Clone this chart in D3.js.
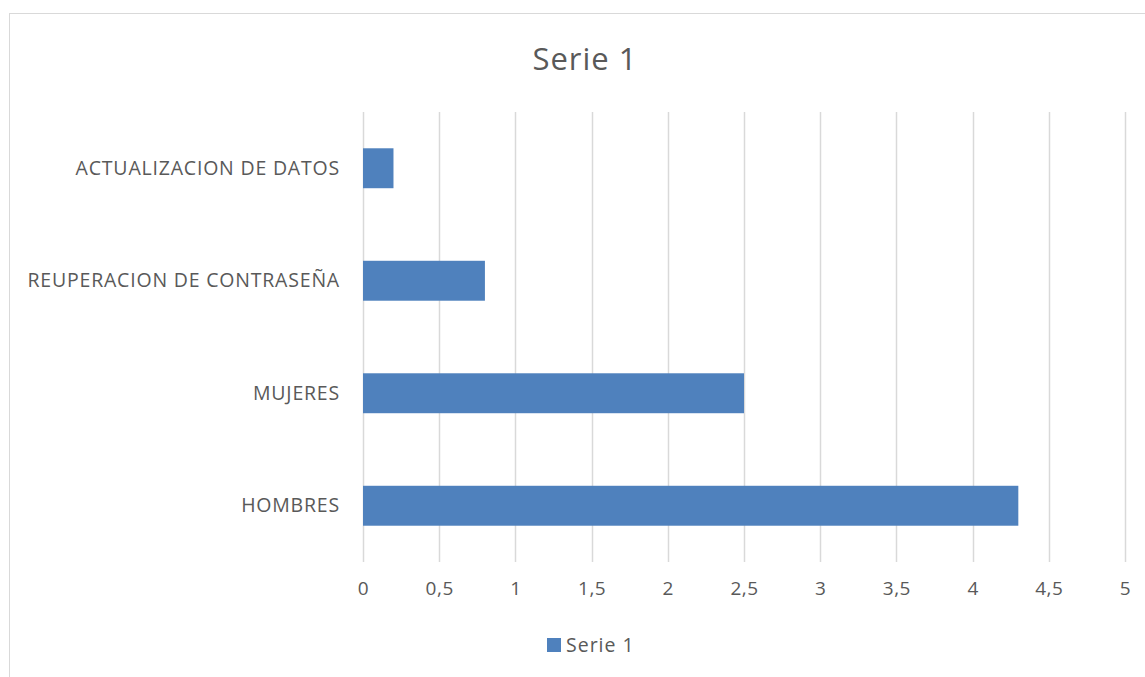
<!DOCTYPE html>
<meta charset="utf-8">
<title>Serie 1</title>
<style>
  body { margin: 0; background: #fff; }
  text { font-family: "Open Sans", "Liberation Sans", sans-serif; fill: #595959; }
</style>
<body>
<script src="https://d3js.org/d3.v7.min.js"></script>
<script>

var categories = ["ACTUALIZACION DE DATOS", "REUPERACION DE CONTRASEÑA", "MUJERES", "HOMBRES"];
var values = [0.2, 0.8, 2.5, 4.3];
var ticks = [0, 0.5, 1, 1.5, 2, 2.5, 3, 3.5, 4, 4.5, 5];
var seriesName = "Serie 1";

var width = 1145,
    height = 677,
    margin = {top: 112, right: 20, bottom: 115, left: 363};

var svg = d3.select("body").append("svg")
  .attr("width", width)
  .attr("height", height);

// chart frame
svg.append("rect")
  .attr("x", 9.5).attr("y", 13.5)
  .attr("width", width + 20).attr("height", height + 20)
  .attr("fill", "none")
  .attr("stroke", "#d9d9d9");

var x = d3.scaleLinear()
  .domain([0, 5])
  .range([margin.left, 1125]);

var y = d3.scaleBand()
  .domain(categories)
  .range([margin.top, height - margin.bottom])
  .paddingInner(0.645)
  .paddingOuter(0.3225);

// vertical gridlines
svg.append("g")
  .selectAll("line")
  .data(ticks)
  .join("line")
  .attr("x1", d => Math.round(x(d)) + 0.5)
  .attr("x2", d => Math.round(x(d)) + 0.5)
  .attr("y1", margin.top)
  .attr("y2", height - margin.bottom)
  .attr("stroke", "#d9d9d9")
  .attr("stroke-width", 1.5);

// bars
svg.append("g")
  .selectAll("rect")
  .data(values)
  .join("rect")
  .attr("x", x(0))
  .attr("y", (d, i) => y(categories[i]))
  .attr("height", y.bandwidth())
  .attr("width", d => x(d) - x(0))
  .attr("fill", "#4f81bd");

// x axis labels
var fmt = d => String(d).replace(".", ",");
var xAxis = d3.axisBottom(x).tickValues(ticks).tickFormat(fmt).tickSize(0).tickPadding(20);
var gx = svg.append("g")
  .attr("transform", "translate(0," + (height - margin.bottom) + ")")
  .call(xAxis);
gx.select(".domain").remove();
gx.selectAll("text").style("font-size", "19px").style("letter-spacing", "0.5px").attr("fill", "#595959");

// y axis labels
var yAxis = d3.axisLeft(y).tickSize(0).tickPadding(23);
var gy = svg.append("g")
  .attr("transform", "translate(" + margin.left + ",0)")
  .call(yAxis);
gy.select(".domain").remove();
gy.selectAll("text").style("font-size", "19.5px").style("letter-spacing", "0.8px").attr("fill", "#595959");

// title
svg.append("text")
  .attr("x", 585)
  .attr("y", 70)
  .attr("text-anchor", "middle")
  .style("font-size", "31px")
  .style("letter-spacing", "1px")
  .text(seriesName);

// legend
var legend = svg.append("g").attr("transform", "translate(547,638)");
legend.append("rect")
  .attr("width", 14).attr("height", 14)
  .attr("fill", "#4f81bd");
legend.append("text")
  .attr("x", 19).attr("y", 14)
  .style("font-size", "19.5px")
  .style("letter-spacing", "1px")
  .text(seriesName);

</script>
</body>
